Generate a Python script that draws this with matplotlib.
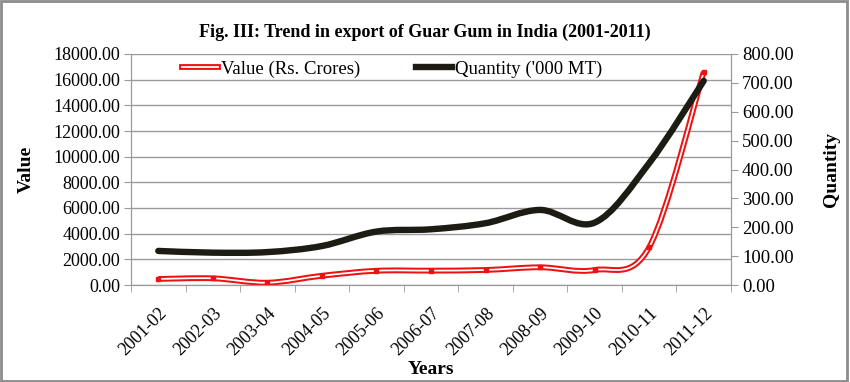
import matplotlib
matplotlib.use("Agg")
import matplotlib.pyplot as plt
from matplotlib.path import Path
from matplotlib.patches import PathPatch, Rectangle
from matplotlib.lines import Line2D
import matplotlib.patheffects as pe
import numpy as np

years = ['2001-02', '2002-03', '2003-04', '2004-05', '2005-06', '2006-07',
         '2007-08', '2008-09', '2009-10', '2010-11', '2011-12']
value = [470, 520, 180, 720, 1110, 1120, 1170, 1380, 1170, 2940, 16600]   # Rs. Crores
quantity = [118, 112, 114, 135, 185, 193, 214, 260, 216, 422, 707]         # '000 MT

plt.rcParams['font.family'] = ['Liberation Serif', 'DejaVu Serif']


def smooth_path(x, y):
    # excel style smoothed line: bezier through the data points
    pts = np.column_stack([x, y]).astype(float)
    n = len(pts)
    verts = [pts[0]]
    codes = [Path.MOVETO]
    for i in range(n - 1):
        p0 = pts[i - 1] if i > 0 else pts[i]
        p1 = pts[i]
        p2 = pts[i + 1]
        p3 = pts[i + 2] if i + 2 < n else pts[i + 1]
        verts += [p1 + (p2 - p0) / 6, p2 - (p3 - p1) / 6, p2]
        codes += [Path.CURVE4] * 3
    return Path(verts, codes)


fig = plt.figure(figsize=(8.5, 3.82), dpi=100)
ax = fig.add_axes([131 / 850, 97 / 382, 600 / 850, 231 / 382])
ax2 = ax.twinx()

xs = np.arange(len(years))
grid_col = '#9a9a9a'

# value series: red double line
ax.add_patch(PathPatch(smooth_path(xs, value), fill=False, edgecolor='white', lw=1.3,
                       path_effects=[pe.Stroke(linewidth=4.2, foreground='#ee1111'), pe.Normal()],
                       zorder=3))
ax.plot(xs, value, ls='none', marker='s', ms=3, mfc='#ee1111', mec='#ee1111', zorder=4)

# quantity series: thick black line
ax2.add_patch(PathPatch(smooth_path(xs, quantity), fill=False, edgecolor='#1c1c14',
                        lw=4.6, capstyle='round', joinstyle='round', zorder=3))

ax.set_xlim(-0.5, len(years) - 0.5)
ax.set_ylim(0, 18000)
ax2.set_ylim(0, 800)
ax.set_yticks(np.arange(0, 18001, 2000))
ax2.set_yticks(np.arange(0, 801, 100))
ax.set_yticklabels(['%.2f' % v for v in np.arange(0, 18001, 2000)], fontsize=13)
ax2.set_yticklabels(['%.2f' % v for v in np.arange(0, 801, 100)], fontsize=13.5)
ax.yaxis.grid(True, color=grid_col, lw=1)
ax.set_axisbelow(True)

ax.set_xticks(xs)
ax.set_xticklabels(years, rotation=45, ha='right', rotation_mode='anchor', fontsize=13)
ax.set_xticks(np.arange(-0.5, len(years)), minor=True)
ax.tick_params(axis='x', which='major', length=0, pad=14)
ax.tick_params(axis='x', which='minor', length=5, color=grid_col)
ax.tick_params(axis='y', length=5, color=grid_col, pad=3)
ax2.tick_params(axis='y', length=5, color=grid_col, pad=3)

for a in (ax, ax2):
    a.spines['top'].set_visible(False)
    for s in ('left', 'right', 'bottom'):
        a.spines[s].set_color(grid_col)

ax.set_ylabel('Value', fontsize=14, fontweight='bold', labelpad=13)
ax2.set_ylabel('Quantity', fontsize=14, fontweight='bold', labelpad=21)
ax.set_xlabel('Years', fontsize=14, fontweight='bold', labelpad=2)

fig.text(0.5, 0.915, 'Fig. III: Trend in export of Guar Gum in India (2001-2011)',
         ha='center', va='center', fontsize=13, fontweight='bold')

h1 = Line2D([], [], color='white', lw=1.3,
            path_effects=[pe.Stroke(linewidth=4.2, foreground='#ee1111'), pe.Normal()])
h2 = Line2D([], [], color='#1c1c14', lw=4.6)
ax.legend([h1, h2], ["Value (Rs. Crores)", "Quantity ('000 MT)"], ncol=2, frameon=False,
          loc='upper center', bbox_to_anchor=(0.435, 1.045), fontsize=13.5,
          handlelength=1.9, handletextpad=0.15, columnspacing=3.0)

fig.add_artist(Rectangle((0.001, 0.003), 0.996, 0.994, transform=fig.transFigure,
                         fill=False, edgecolor='#8c8c8c', lw=2))

fig.savefig('out.png', dpi=100)
